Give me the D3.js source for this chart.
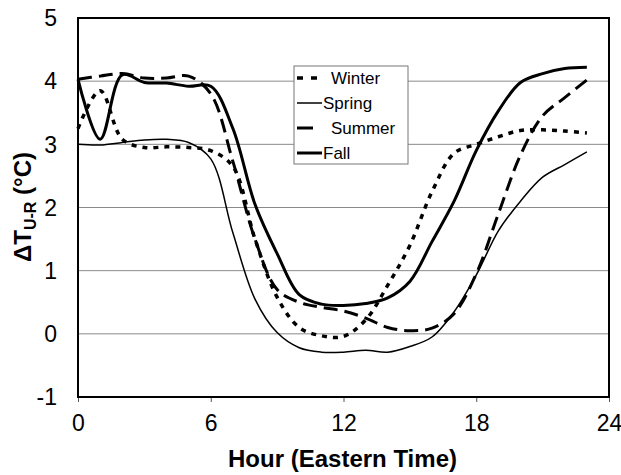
<!DOCTYPE html>
<html lang="en">
<head>
<meta charset="UTF-8">
<title>Urban-rural temperature difference</title>
<script src="https://cdnjs.cloudflare.com/ajax/libs/d3/7.8.5/d3.min.js"></script>
<style>
  body { margin: 0; background: #fff; font-family: Arial, "Liberation Sans", sans-serif; }
</style>
</head>
<body>
<div id="chart"></div>
<script>
// hourly values
const hours = d3.range(0, 24);
const winter = [3.25, 3.85, 3.08, 2.95, 2.96, 2.95, 2.9, 2.65, 1.5, 0.58, 0.1, -0.03, -0.04, 0.22, 0.77, 1.4, 2.25, 2.86, 3.0, 3.12, 3.22, 3.23, 3.21, 3.18];
const spring = [3.0, 2.99, 3.03, 3.07, 3.08, 3.03, 2.77, 1.6, 0.55, 0.02, -0.22, -0.29, -0.29, -0.26, -0.29, -0.2, -0.05, 0.35, 0.93, 1.63, 2.1, 2.48, 2.68, 2.88];
const summer = [4.03, 4.08, 4.12, 4.05, 4.05, 4.08, 3.8, 2.73, 1.5, 0.7, 0.5, 0.42, 0.36, 0.25, 0.1, 0.05, 0.09, 0.32, 0.95, 1.9, 2.83, 3.45, 3.74, 4.02];
const fall = [4.03, 3.08, 4.1, 3.98, 3.97, 3.92, 3.92, 3.25, 2.05, 1.27, 0.62, 0.47, 0.45, 0.48, 0.57, 0.83, 1.46, 2.1, 2.9, 3.53, 3.98, 4.12, 4.2, 4.22];
const seriesNames = ["Winter", "Spring", "Summer", "Fall"];
const xTicks = [0, 6, 12, 18, 24];
const yTicks = [-1, 0, 1, 2, 3, 4, 5];

const width = 621, height = 475;
const margin = {top: 18, right: 12, bottom: 78, left: 78};
const font = "Arial, 'Liberation Sans', sans-serif";

const styles = {
  Winter: {w: 3.5, dash: "5,6"},
  Spring: {w: 1.5, dash: null},
  Summer: {w: 3, dash: "14,7"},
  Fall:   {w: 3, dash: null}
};
const values = {Winter: winter, Spring: spring, Summer: summer, Fall: fall};

const svg = d3.select("#chart").append("svg")
  .attr("width", width).attr("height", height)
  .attr("font-family", font);

const x = d3.scaleLinear().domain([0, 24]).range([margin.left, width - margin.right]);
const y = d3.scaleLinear().domain([-1, 5]).range([height - margin.bottom, margin.top]);

// gridlines
svg.append("g").selectAll("line")
  .data(yTicks.filter(d => d > -1 && d < 5))
  .join("line")
  .attr("x1", x(0)).attr("x2", x(24))
  .attr("y1", d => y(d)).attr("y2", d => y(d))
  .attr("stroke", "#8a8a8a").attr("stroke-width", 1);

// y tick labels
svg.append("g").selectAll("text")
  .data(yTicks)
  .join("text")
  .attr("x", x(0) - 21).attr("y", d => y(d))
  .attr("dy", "0.36em")
  .attr("text-anchor", "end")
  .attr("font-size", 23)
  .text(d => d);

// x axis ticks
const xAxis = d3.axisBottom(x).tickValues(xTicks).tickSize(5).tickPadding(13);
const gx = svg.append("g")
  .attr("transform", `translate(0,${y(-1)})`)
  .call(xAxis);
gx.select(".domain").remove();
gx.selectAll("line").attr("stroke", "#555");
gx.selectAll("text").attr("font-size", 23).attr("font-family", font);

// lines
const line = d3.line()
  .x((d, i) => x(hours[i]))
  .y(d => y(d))
  .curve(d3.curveCatmullRom);

seriesNames.forEach(name => {
  svg.append("path")
    .datum(values[name])
    .attr("fill", "none")
    .attr("stroke", "#000")
    .attr("stroke-width", styles[name].w)
    .attr("stroke-dasharray", styles[name].dash)
    .attr("d", line);
});

// plot frame
svg.append("rect")
  .attr("x", x(0)).attr("y", y(5))
  .attr("width", x(24) - x(0)).attr("height", y(-1) - y(5))
  .attr("fill", "none").attr("stroke", "#000").attr("stroke-width", 2);

// legend
const lg = svg.append("g").attr("transform", "translate(294,66)");
lg.append("rect")
  .attr("width", 114).attr("height", 98)
  .attr("fill", "#fff").attr("stroke", "#777").attr("stroke-width", 1);
seriesNames.forEach((name, i) => {
  const yy = 12 + i * 25;
  lg.append("line")
    .attr("x1", 3).attr("x2", 28).attr("y1", yy).attr("y2", yy)
    .attr("stroke", "#000")
    .attr("stroke-width", styles[name].w)
    .attr("stroke-dasharray", name === "Winter" ? "6,8" : (name === "Summer" ? "16,9" : null));
  lg.append("text")
    .attr("x", name === "Spring" || name === "Fall" ? 29 : 37).attr("y", yy)
    .attr("dy", "0.36em")
    .attr("font-size", 17)
    .text(name);
});

// axis titles
svg.append("text")
  .attr("x", (x(0) + x(24)) / 2 - 1).attr("y", 467)
  .attr("text-anchor", "middle")
  .attr("font-size", 24).attr("font-weight", "bold")
  .text("Hour (Eastern Time)");

const yt = svg.append("text")
  .attr("transform", "translate(31,207) rotate(-90)")
  .attr("text-anchor", "middle")
  .attr("font-size", 24).attr("font-weight", "bold");
yt.append("tspan").text("\u0394T");
yt.append("tspan").attr("font-size", 16).attr("dy", 5).text("U-R");
yt.append("tspan").attr("dy", -5).text(" (\u00B0C)");
</script>
</body>
</html>
